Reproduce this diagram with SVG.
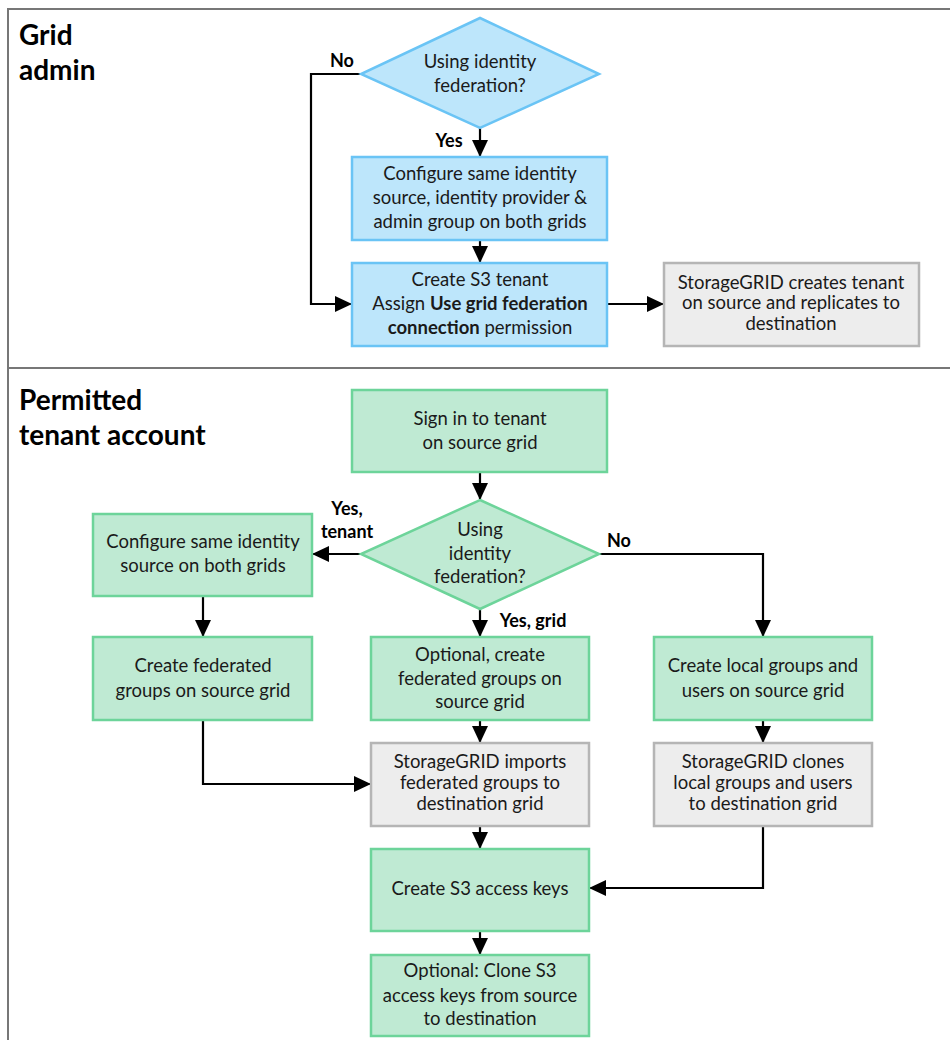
<svg xmlns="http://www.w3.org/2000/svg" width="950" height="1040" viewBox="0 0 950 1040">
<style>
text{font-family:Lato,"Open Sans","Liberation Sans",sans-serif;font-size:18.5px;fill:#1a1a1a;text-anchor:middle}
.h{font-size:28px;font-weight:bold;text-anchor:start;fill:#000}
.lb{font-weight:bold;font-size:18px;fill:#000}
.b{font-weight:bold}
.blue{fill:#bde6fb;stroke:#6ac4f5;stroke-width:2.5}
.green{fill:#bfead3;stroke:#6dd49a;stroke-width:2.5}
.gray{fill:#ededed;stroke:#b5b5b5;stroke-width:2.5}
.c{fill:none;stroke:#000;stroke-width:2.2}
.frame{fill:none;stroke:#777;stroke-width:2}
</style>
<defs>
<marker id="ah" markerWidth="17" markerHeight="16" refX="16" refY="8" orient="auto" markerUnits="userSpaceOnUse">
<path d="M0,0 L17,8 L0,16 Z" fill="#000"/>
</marker>
</defs>
<rect width="950" height="1040" fill="#fff"/>
<g id="frame">
<path class="frame" d="M8,1040 V9 H950"/>
<path class="frame" d="M8,368 H950"/>
<text class="h" x="19" y="45">Grid</text>
<text class="h" x="19" y="80">admin</text>
<text class="h" x="19" y="410">Permitted</text>
<text class="h" x="19" y="445">tenant account</text>
</g>
<g id="connectors">
<path class="c" d="M480,128 V156" marker-end="url(#ah)"/>
<path class="c" d="M480,240 V262" marker-end="url(#ah)"/>
<path class="c" d="M361,74 H311 V304 H351" marker-end="url(#ah)"/>
<path class="c" d="M607,304 H663" marker-end="url(#ah)"/>
<path class="c" d="M480,472 V499" marker-end="url(#ah)"/>
<path class="c" d="M361,554 H313" marker-end="url(#ah)"/>
<path class="c" d="M203,596 V636" marker-end="url(#ah)"/>
<path class="c" d="M203,720 V784 H370" marker-end="url(#ah)"/>
<path class="c" d="M480,609 V636" marker-end="url(#ah)"/>
<path class="c" d="M599,554 H763 V636" marker-end="url(#ah)"/>
<path class="c" d="M763,720 V742" marker-end="url(#ah)"/>
<path class="c" d="M480,720 V742" marker-end="url(#ah)"/>
<path class="c" d="M480,826 V848" marker-end="url(#ah)"/>
<path class="c" d="M763,826 V888 H590" marker-end="url(#ah)"/>
<path class="c" d="M480,931 V954" marker-end="url(#ah)"/>
<text class="lb" x="342" y="67">No</text>
<text class="lb" x="449" y="147">Yes</text>
<text class="lb" x="347" y="515">Yes,</text>
<text class="lb" x="347" y="538">tenant</text>
<text class="lb" x="533" y="627">Yes, grid</text>
<text class="lb" x="619" y="547">No</text>
</g>
<g id="d1">
<polygon class="blue" points="480,18 599,74 480,128 361,74"/>
<text x="480" y="68">Using  identity</text>
<text x="480" y="92">federation?</text>
</g>
<g id="n1">
<rect class="blue" x="352" y="157" width="255" height="83"/>
<text x="480" y="180">Configure same identity</text>
<text x="480" y="204">source, identity provider &amp;</text>
<text x="480" y="228">admin group on both grids</text>
</g>
<g id="n2">
<rect class="blue" x="352" y="263" width="255" height="83"/>
<text x="480" y="286">Create S3 tenant</text>
<text x="480" y="310">Assign <tspan class="b">Use grid federation</tspan></text>
<text x="480" y="334"><tspan class="b">connection</tspan> permission</text>
</g>
<g id="n3">
<rect class="gray" x="664" y="263" width="255" height="83"/>
<text x="791" y="289">StorageGRID creates tenant</text>
<text x="791" y="309">on source and replicates to</text>
<text x="791" y="330">destination</text>
</g>
<g id="n4">
<rect class="green" x="352" y="390" width="255" height="82"/>
<text x="480" y="425">Sign in to tenant</text>
<text x="480" y="449">on source grid</text>
</g>
<g id="d2">
<polygon class="green" points="480,500 599,554 480,609 361,554"/>
<text x="480" y="536">Using</text>
<text x="480" y="560">identity</text>
<text x="480" y="583">federation?</text>
</g>
<g id="n5">
<rect class="green" x="93" y="514" width="219" height="82"/>
<text x="203" y="548">Configure same identity</text>
<text x="203" y="572">source on both grids</text>
</g>
<g id="n6">
<rect class="green" x="93" y="637" width="219" height="83"/>
<text x="203" y="672">Create federated</text>
<text x="203" y="697">groups on source grid</text>
</g>
<g id="n7">
<rect class="green" x="371" y="637" width="218" height="83"/>
<text x="480" y="661">Optional, create</text>
<text x="480" y="685">federated groups on</text>
<text x="480" y="708">source grid</text>
</g>
<g id="n8">
<rect class="green" x="654" y="637" width="218" height="83"/>
<text x="763" y="672">Create local groups and</text>
<text x="763" y="697">users on source grid</text>
</g>
<g id="n9">
<rect class="gray" x="371" y="743" width="218" height="83"/>
<text x="480" y="768">StorageGRID imports</text>
<text x="480" y="789">federated groups to</text>
<text x="480" y="810">destination grid</text>
</g>
<g id="n10">
<rect class="gray" x="654" y="743" width="218" height="83"/>
<text x="763" y="768">StorageGRID clones</text>
<text x="763" y="789">local groups and users</text>
<text x="763" y="810">to destination grid</text>
</g>
<g id="n11">
<rect class="green" x="371" y="849" width="218" height="82"/>
<text x="480" y="895">Create S3 access keys</text>
</g>
<g id="n12">
<rect class="green" x="371" y="955" width="218" height="81"/>
<text x="480" y="977">Optional: Clone S3</text>
<text x="480" y="1002">access keys from source</text>
<text x="480" y="1025">to destination</text>
</g>
</svg>
